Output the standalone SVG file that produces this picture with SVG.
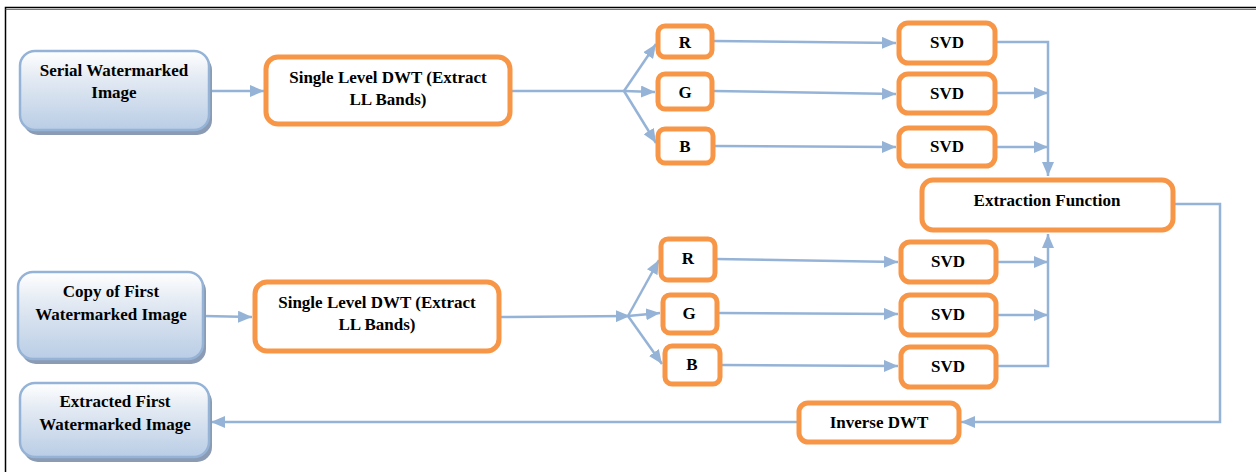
<svg xmlns="http://www.w3.org/2000/svg" width="1256" height="472" viewBox="0 0 1256 472">
  <defs>
    <linearGradient id="blueFill" x1="0" y1="0" x2="0" y2="1">
      <stop offset="0" stop-color="#ffffff"/>
      <stop offset="0.35" stop-color="#e3eaf3"/>
      <stop offset="1" stop-color="#b9cde5"/>
    </linearGradient>
    <marker id="arrow" viewBox="0 0 14 12" refX="14" refY="6" markerWidth="14" markerHeight="12" markerUnits="userSpaceOnUse" orient="auto">
      <path d="M0,0 L14,6 L0,12 Z" fill="#95b3d7"/>
    </marker>
  </defs>
  <style>
    .frame { fill: none; stroke: #000; stroke-width: 1.5; }
    .blue { fill: url(#blueFill); stroke: #95b3d7; stroke-width: 2.5; }
    .shadow { fill: #8a9bb3; }
    .orange { fill: #ffffff; stroke: #f79646; stroke-width: 5; }
    .conn { fill: none; stroke: #95b3d7; stroke-width: 2.5; }
    .arr { marker-end: url(#arrow); }
    text { font-family: "Liberation Serif", "Times New Roman", serif; font-weight: 700; font-size: 17px; fill: #000; text-anchor: middle; }
  </style>

  <rect width="1256" height="472" fill="#ffffff"/>
  <!-- page frame -->
  <path class="frame" d="M5.5,472 L5.5,7.5 L1256,7.5"/>
  <path d="M5.5,9.5 L1256,9.5" stroke="#555" stroke-width="0.8" fill="none"/>

  <!-- connectors -->
  <g id="connectors">
    <!-- upper path -->
    <line class="conn arr" x1="210" y1="91" x2="264" y2="91"/>
    <polyline class="conn" points="510,91 624,91"/>
    <line class="conn arr" x1="624" y1="91" x2="656" y2="44"/>
    <line class="conn arr" x1="624" y1="91" x2="655" y2="92"/>
    <line class="conn arr" x1="624" y1="91" x2="656" y2="143"/>
    <line class="conn arr" x1="713" y1="41" x2="896" y2="43"/>
    <line class="conn arr" x1="713" y1="91" x2="896" y2="94"/>
    <line class="conn arr" x1="714" y1="146" x2="896" y2="147"/>
    <polyline class="conn arr" points="997,42 1048,42 1048,176"/>
    <line class="conn arr" x1="997" y1="93" x2="1048" y2="93"/>
    <line class="conn arr" x1="997" y1="147" x2="1048" y2="147"/>

    <!-- lower path -->
    <line class="conn arr" x1="204" y1="316" x2="252" y2="317"/>
    <line class="conn arr" x1="500" y1="317" x2="630" y2="316"/>
    <line class="conn arr" x1="628" y1="316" x2="659" y2="260"/>
    <line class="conn arr" x1="628" y1="316" x2="660" y2="313"/>
    <line class="conn arr" x1="628" y1="316" x2="662" y2="364"/>
    <line class="conn arr" x1="716" y1="259" x2="898" y2="262"/>
    <line class="conn arr" x1="718" y1="313" x2="898" y2="314"/>
    <line class="conn arr" x1="722" y1="365" x2="898" y2="366"/>
    <polyline class="conn arr" points="997,366 1048,366 1048,234"/>
    <line class="conn arr" x1="997" y1="262" x2="1048" y2="262"/>
    <line class="conn arr" x1="997" y1="315" x2="1048" y2="315"/>

    <!-- extraction to inverse DWT to output -->
    <polyline class="conn arr" points="1174,204 1220,204 1220,422 961,422"/>
    <line class="conn arr" x1="797" y1="422" x2="211" y2="422"/>
  </g>

  <!-- input / output nodes -->
  <g id="serial-watermarked-image">
    <rect class="shadow" x="23" y="55" width="189" height="80" rx="15"/>
    <rect class="blue" x="20" y="51" width="189" height="79" rx="15"/>
    <text x="114" y="76">Serial Watermarked</text>
    <text x="114" y="98">Image</text>
  </g>
  <g id="copy-first-watermarked-image">
    <rect class="shadow" x="21" y="276" width="185" height="88" rx="15"/>
    <rect class="blue" x="18" y="272" width="185" height="87" rx="15"/>
    <text x="111" y="297">Copy of First</text>
    <text x="111" y="320">Watermarked Image</text>
  </g>
  <g id="extracted-first-watermarked-image">
    <rect class="shadow" x="23" y="387" width="189" height="75" rx="15"/>
    <rect class="blue" x="20" y="383" width="189" height="74" rx="15"/>
    <text x="115" y="407">Extracted First</text>
    <text x="115" y="430">Watermarked Image</text>
  </g>

  <!-- processing nodes -->
  <g id="dwt-1">
    <rect class="orange" x="266" y="57" width="244" height="67" rx="12"/>
    <text x="388" y="83">Single Level DWT (Extract</text>
    <text x="388" y="105">LL Bands)</text>
  </g>
  <g id="dwt-2">
    <rect class="orange" x="255" y="282" width="244" height="69" rx="12"/>
    <text x="377" y="308">Single Level DWT (Extract</text>
    <text x="377" y="330">LL Bands)</text>
  </g>

  <g id="r-1"><rect class="orange" x="658" y="26" width="54" height="31" rx="7"/><text x="685" y="48">R</text></g>
  <g id="g-1"><rect class="orange" x="658" y="74" width="54" height="35" rx="7"/><text x="685" y="98">G</text></g>
  <g id="b-1"><rect class="orange" x="658" y="129" width="55" height="34" rx="7"/><text x="685" y="152">B</text></g>

  <g id="r-2"><rect class="orange" x="661" y="239" width="54" height="41" rx="7"/><text x="688" y="264">R</text></g>
  <g id="g-2"><rect class="orange" x="663" y="295" width="54" height="38" rx="7"/><text x="689" y="319">G</text></g>
  <g id="b-2"><rect class="orange" x="665" y="346" width="55" height="38" rx="7"/><text x="692" y="370">B</text></g>

  <g id="svd-1"><rect class="orange" x="899" y="23" width="96" height="40" rx="9"/><text x="947" y="48">SVD</text></g>
  <g id="svd-2"><rect class="orange" x="899" y="74" width="96" height="39" rx="9"/><text x="947" y="99">SVD</text></g>
  <g id="svd-3"><rect class="orange" x="899" y="128" width="96" height="38" rx="9"/><text x="947" y="152">SVD</text></g>

  <g id="svd-4"><rect class="orange" x="901" y="242" width="95" height="40" rx="9"/><text x="948" y="267">SVD</text></g>
  <g id="svd-5"><rect class="orange" x="901" y="295" width="95" height="40" rx="9"/><text x="948" y="320">SVD</text></g>
  <g id="svd-6"><rect class="orange" x="901" y="347" width="95" height="40" rx="9"/><text x="948" y="372">SVD</text></g>

  <g id="extraction-function">
    <rect class="orange" x="922" y="180" width="251" height="50" rx="11"/>
    <text x="1047" y="206">Extraction Function</text>
  </g>
  <g id="inverse-dwt">
    <rect class="orange" x="799" y="403" width="160" height="39" rx="9"/>
    <text x="879" y="428">Inverse DWT</text>
  </g>
</svg>
